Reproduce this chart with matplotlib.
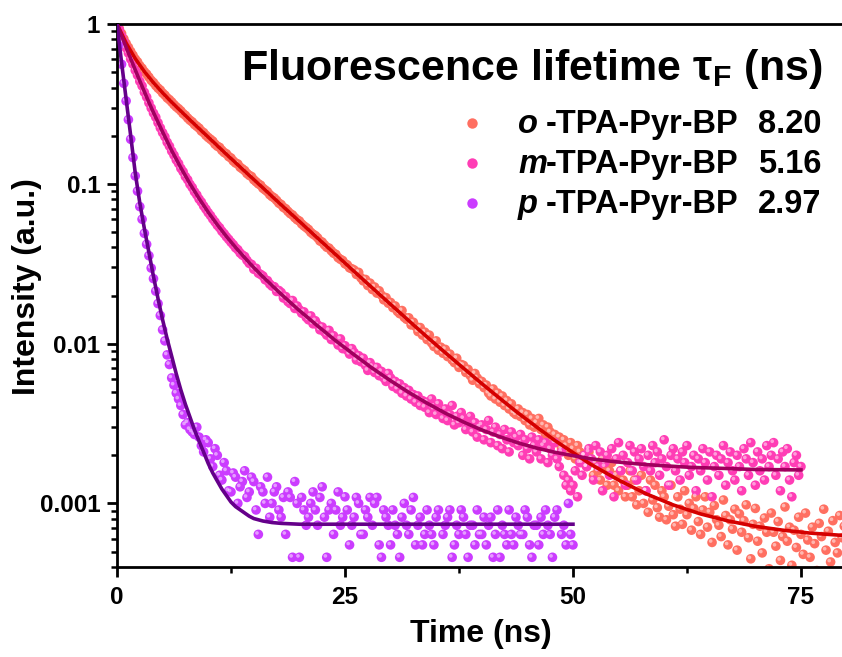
import numpy as np
import matplotlib
matplotlib.use("Agg")
import matplotlib.pyplot as plt
from matplotlib import transforms
from matplotlib.ticker import LogLocator, NullFormatter, FixedLocator

plt.rcParams["font.family"] = ["Liberation Sans", "DejaVu Sans"]
plt.rcParams["font.weight"] = "bold"
plt.rcParams["mathtext.default"] = "regular"

# channel width of the decay data (ns)
T_STEP = 0.25

# measured decays, one value per channel starting at t = 0 (8 channels = 2 ns per row)
o_int = [
    1.0, 0.935, 0.872, 0.808, 0.757, 0.715, 0.674, 0.638,
    0.604, 0.58, 0.549, 0.528, 0.503, 0.486, 0.465, 0.444,
    0.43, 0.412, 0.397, 0.386, 0.37, 0.359, 0.345, 0.336,
    0.325, 0.313, 0.303, 0.295, 0.286, 0.275, 0.268, 0.258,
    0.25, 0.244, 0.235, 0.229, 0.223, 0.214, 0.209, 0.201,
    0.195, 0.19, 0.185, 0.177, 0.172, 0.169, 0.162, 0.157,
    0.154, 0.148, 0.145, 0.139, 0.135, 0.133, 0.127, 0.124,
    0.121, 0.116, 0.113, 0.111, 0.106, 0.103, 0.1, 0.098,
    0.0938, 0.0915, 0.0892, 0.0855, 0.0832, 0.0815, 0.0788, 0.0757,
    0.0742, 0.0712, 0.0698, 0.0672, 0.0651, 0.0638, 0.0614, 0.0596,
    0.0585, 0.0561, 0.0545, 0.0532, 0.0518, 0.0497, 0.0484, 0.0474,
    0.0459, 0.0439, 0.0432, 0.0415, 0.0401, 0.0396, 0.0381, 0.0368,
    0.0362, 0.0345, 0.0337, 0.0331, 0.0316, 0.0311, 0.0298, 0.0294,
    0.0289, 0.0271, 0.0279, 0.0258, 0.0247, 0.0252, 0.0231, 0.0239,
    0.0218, 0.0226, 0.0207, 0.0214, 0.0201, 0.0188, 0.0194, 0.0179,
    0.0181, 0.0168, 0.0172, 0.0159, 0.0154, 0.0161, 0.0146, 0.0142,
    0.0145, 0.0131, 0.0136, 0.0128, 0.0119, 0.0126, 0.0113, 0.0118,
    0.0106, 0.0113, 0.0101, 0.0096, 0.0104, 0.0091, 0.0095, 0.0087,
    0.0092, 0.0083, 0.0086, 0.0079, 0.0076, 0.0081, 0.0071, 0.0074,
    0.0073, 0.0066, 0.0069, 0.0063, 0.0059, 0.0065, 0.0061, 0.0056,
    0.0058, 0.0053, 0.0055, 0.0049, 0.0047, 0.0052, 0.0045, 0.0049,
    0.0043, 0.0047, 0.0041, 0.0044, 0.0039, 0.0042, 0.0037, 0.0036,
    0.0039, 0.0035, 0.0037, 0.0033, 0.0036, 0.0031, 0.0034, 0.0030,
    0.0032, 0.0034, 0.0029, 0.0031, 0.0027, 0.0030, 0.0028, 0.0025,
    0.0027, 0.0024, 0.0026, 0.0022, 0.0025, 0.0023, 0.0020, 0.0024,
    0.0022, 0.0019, 0.0023, 0.0021, 0.0018, 0.0020, 0.0017, 0.0021,
    0.0019, 0.0015, 0.0018, 0.0016, 0.0014, 0.0019, 0.0017, 0.0013,
    0.0016, 0.0018, 0.0013, 0.0015, 0.0012, 0.0016, 0.0014, 0.0011,
    0.0013, 0.0016, 0.0011, 0.0014, 0.00098, 0.0012, 0.0015, 0.0010,
    0.0012, 0.00088, 0.0014, 0.00105, 0.0013, 0.00094, 0.00082, 0.0012,
    0.0011, 0.00079, 0.00096, 0.0013, 0.00085, 0.00072, 0.0011, 0.00092,
    0.00074, 0.0012, 0.00085, 0.001, 0.00068, 0.00093, 0.0011, 0.00077,
    0.00064, 0.00091, 0.0011, 0.00071, 0.00088, 0.00057, 0.00097, 0.00079,
    0.00073, 0.00062, 0.00105, 0.00084, 0.00055, 0.00079, 0.00069, 0.00092,
    0.00051, 0.00086, 0.00066, 0.00078, 0.00098, 0.00061, 0.00045, 0.00074,
    0.00093, 0.00058, 0.00072, 0.00049, 0.00081, 0.00066, 0.00039, 0.00087,
    0.00066, 0.00054, 0.00077, 0.00044, 0.00062, 0.00095, 0.00058, 0.00071,
    0.00041, 0.00068, 0.00053, 0.00082, 0.00064, 0.00048, 0.00087, 0.00059,
    0.00046, 0.00071, 0.00056, 0.00038, 0.00075, 0.00062, 0.00092, 0.00051,
    0.00067, 0.00043, 0.00078, 0.00057, 0.00049, 0.00084, 0.00061, 0.00072,
]
m_int = [
    1.0, 0.92, 0.838, 0.772, 0.709, 0.657, 0.603, 0.561,
    0.513, 0.478, 0.438, 0.41, 0.374, 0.349, 0.321, 0.298,
    0.277, 0.261, 0.241, 0.224, 0.209, 0.197, 0.182, 0.172,
    0.16, 0.151, 0.141, 0.134, 0.125, 0.119, 0.111, 0.106,
    0.0993, 0.0948, 0.0891, 0.0852, 0.0803, 0.0769, 0.0727, 0.0694,
    0.066, 0.0633, 0.0602, 0.0577, 0.055, 0.0531, 0.0505, 0.0487,
    0.0466, 0.0449, 0.0431, 0.0416, 0.0398, 0.0387, 0.0369, 0.0358,
    0.0351, 0.0332, 0.0318, 0.0313, 0.0292, 0.0296, 0.0276, 0.0271,
    0.0265, 0.0251, 0.0248, 0.0236, 0.0229, 0.0227, 0.0212, 0.0215,
    0.0209, 0.0193, 0.0197, 0.0183, 0.0178, 0.0186, 0.0166, 0.0172,
    0.0163, 0.0155, 0.0158, 0.0146, 0.0141, 0.0149, 0.0133, 0.0139,
    0.0131, 0.0122, 0.0127, 0.0118, 0.0113, 0.0121, 0.0106, 0.0112,
    0.0104, 0.0098, 0.0107, 0.0093, 0.0097, 0.0091, 0.0086, 0.0093,
    0.0088, 0.0079, 0.0084, 0.0077, 0.0081, 0.0073, 0.0068, 0.0076,
    0.0072, 0.0066, 0.0071, 0.0063, 0.0067, 0.0061, 0.0058, 0.0065,
    0.0061, 0.0054, 0.0058, 0.0052, 0.0056, 0.0049, 0.0053, 0.0047,
    0.0051, 0.0045, 0.0048, 0.0043, 0.0047, 0.0041, 0.0044, 0.0040,
    0.0043, 0.0037, 0.0045, 0.0039, 0.0036, 0.0042, 0.0038, 0.0034,
    0.0039, 0.0033, 0.0036, 0.0041, 0.0031, 0.0035, 0.0032, 0.0037,
    0.0034, 0.0029, 0.0031, 0.0035, 0.0028, 0.0032, 0.0026, 0.0030,
    0.0031, 0.0025, 0.0029, 0.0033, 0.0024, 0.0028, 0.0030, 0.0023,
    0.0027, 0.0022, 0.0029, 0.0025, 0.0021, 0.0028, 0.0024, 0.0026,
    0.0023, 0.0027, 0.0020, 0.0025, 0.0022, 0.0019, 0.0026, 0.0023,
    0.0021, 0.0025, 0.0019, 0.0023, 0.0024, 0.0018, 0.0022, 0.0020,
    0.0024, 0.0019, 0.0017, 0.0021, 0.0015, 0.0013, 0.0014, 0.0012,
    0.0013, 0.0016, 0.0011, 0.0018, 0.0015, 0.0020, 0.0017, 0.0022,
    0.0019, 0.0014, 0.0023, 0.0017, 0.0021, 0.0012, 0.0018, 0.0020,
    0.0015, 0.0022, 0.0011, 0.0019, 0.0024, 0.0016, 0.0020, 0.0013,
    0.0018, 0.0023, 0.0016, 0.0021, 0.0014, 0.0019, 0.0022, 0.0017,
    0.0012, 0.0020, 0.0016, 0.0023, 0.0018, 0.0021, 0.0015, 0.0019,
    0.0025, 0.0017, 0.0013, 0.0020, 0.0022, 0.0016, 0.0019, 0.0014,
    0.0021, 0.0018, 0.0023, 0.0015, 0.0017, 0.0020, 0.0012, 0.0019,
    0.0016, 0.0022, 0.0018, 0.0014, 0.0021, 0.0011, 0.0017, 0.0020,
    0.0015, 0.0019, 0.0023, 0.0013, 0.0018, 0.0021, 0.0016, 0.0014,
    0.0020, 0.0017, 0.0012, 0.0022, 0.0019, 0.0015, 0.0024, 0.0018,
    0.0013, 0.0021, 0.0016, 0.0019, 0.0014, 0.0023, 0.0017, 0.0020,
    0.0024, 0.0015, 0.0019, 0.0012, 0.0021, 0.0017, 0.0022, 0.0014,
    0.0011, 0.0018, 0.0020, 0.0015, 0.0017,
]
p_int = [
    1.0, 0.74, 0.56, 0.425, 0.33, 0.252, 0.19, 0.146,
    0.112, 0.09, 0.072, 0.06, 0.049, 0.0418, 0.0355, 0.0297,
    0.0255, 0.0213, 0.0178, 0.015, 0.0122, 0.0104, 0.0085, 0.0074,
    0.0061, 0.0055, 0.0049, 0.0045, 0.0041, 0.0036, 0.0031, 0.0032,
    0.0029, 0.0028, 0.0027, 0.0030, 0.0026, 0.0023, 0.0021, 0.0025,
    0.0024, 0.0019, 0.0017, 0.0022, 0.0020, 0.0015, 0.0014, 0.0018,
    0.0016, 0.0012, 0.00118, 0.00155, 0.00146, 0.001, 0.00127, 0.00137,
    0.0016, 0.00109, 0.00118, 0.00146, 0.00137, 0.00091, 0.00064, 0.00127,
    0.00118, 0.001, 0.00146, 0.00082, 0.001, 0.00118, 0.00127, 0.00091,
    0.00082, 0.00109, 0.00064, 0.00118, 0.00109, 0.00046, 0.00137, 0.001,
    0.00046, 0.00109, 0.00091, 0.00073, 0.00082, 0.001, 0.00118, 0.00091,
    0.00073, 0.00109, 0.00127, 0.00082, 0.00046, 0.00091, 0.001, 0.00064,
    0.00091, 0.00118, 0.00073, 0.00082, 0.0011, 0.00091, 0.00055, 0.00073,
    0.00082, 0.00109, 0.001, 0.00064, 0.00064, 0.00091, 0.00082, 0.00109,
    0.00073, 0.001, 0.00109, 0.00055, 0.00046, 0.00091, 0.00082, 0.00073,
    0.00055, 0.00091, 0.00073, 0.00064, 0.00046, 0.00082, 0.001, 0.00073,
    0.00064, 0.00091, 0.00109, 0.00055, 0.00073, 0.00082, 0.00055, 0.00064,
    0.00091, 0.00073, 0.00064, 0.00055, 0.00082, 0.00091, 0.00037, 0.00064,
    0.00073, 0.00082, 0.00091, 0.00046, 0.00055, 0.00073, 0.00064, 0.00091,
    0.00082, 0.00064, 0.00046, 0.00073, 0.00073, 0.00055, 0.00091, 0.00064,
    0.00064, 0.00082, 0.00055, 0.00073, 0.00082, 0.00046, 0.00064, 0.00091,
    0.00046, 0.00073, 0.00064, 0.00055, 0.00091, 0.00064, 0.00055, 0.00082,
    0.00073, 0.00064, 0.00064, 0.00091, 0.00082, 0.00055, 0.00046, 0.00073,
    0.00073, 0.00055, 0.00082, 0.00064, 0.00091, 0.00073, 0.00064, 0.00046,
    0.00082, 0.00091, 0.00037, 0.00064, 0.00073, 0.00055, 0.001, 0.00064,
    0.00055,
]

# fitted decay curves (time in ns, intensity)
o_fit_t = [0, 1, 2, 3, 4, 5, 6, 8, 10, 12, 14, 16, 18, 20, 22, 24, 26, 28, 30, 32,
           34, 36, 38, 40, 42, 44, 46, 48, 50, 52, 55, 58, 61, 64, 67, 70, 73, 76, 80]
o_fit = [1.0, 0.759, 0.607, 0.504, 0.429, 0.371, 0.324, 0.251, 0.196, 0.153, 0.120,
         0.0943, 0.0739, 0.0582, 0.0457, 0.0360, 0.0283, 0.0223, 0.0176, 0.0139,
         0.0110, 0.00877, 0.00701, 0.00562, 0.00453, 0.00367, 0.00301, 0.00248,
         0.00208, 0.00175, 0.00140, 0.00115, 0.000978, 0.000859, 0.000777, 0.000719,
         0.00068, 0.000652, 0.000628]
m_fit_t = [0, 0.5, 1, 1.5, 2, 2.5, 3, 3.5, 4, 5, 6, 7, 8, 9, 10, 11, 12, 13, 14, 15,
           16, 17, 18, 19, 20, 22, 24, 26, 28, 30, 32, 34, 36, 38, 40, 42, 44, 46, 48,
           50, 52, 54, 56, 58, 60, 63, 66, 70, 75]
m_fit = [1.0, 0.845, 0.714, 0.606, 0.516, 0.440, 0.377, 0.323, 0.279, 0.211, 0.161,
         0.126, 0.100, 0.0809, 0.0664, 0.0554, 0.0468, 0.0400, 0.0345, 0.0299, 0.0262,
         0.0231, 0.0204, 0.0181, 0.0161, 0.0129, 0.0104, 0.00852, 0.00701, 0.00586,
         0.00495, 0.00424, 0.00367, 0.00323, 0.00288, 0.00261, 0.00239, 0.00222,
         0.00209, 0.00199, 0.0019, 0.00184, 0.00179, 0.00175, 0.00172, 0.00168,
         0.00166, 0.00163, 0.00162]
p_fit_t = [0, 0.5, 1, 1.5, 2, 2.5, 3, 3.5, 4, 4.5, 5, 5.5, 6, 6.5, 7, 7.5, 8, 8.5, 9,
           9.5, 10, 10.5, 11, 11.5, 12, 12.5, 13, 13.5, 14, 14.5, 15, 16, 17, 18, 20, 50]
p_fit = [1.0, 0.575, 0.339, 0.200, 0.117, 0.0759, 0.0525, 0.0372, 0.0263, 0.0191,
         0.0141, 0.0107, 0.00832, 0.00646, 0.00513, 0.00417, 0.00347, 0.00288,
         0.00245, 0.00209, 0.00178, 0.00155, 0.00138, 0.00123, 0.00112, 0.00102,
         0.000955, 0.000912, 0.000871, 0.000832, 0.000804, 0.000776, 0.000759,
         0.00075, 0.000741, 0.000741]

names = ["o", "m", "p"]
lifetimes = ["8.20", "5.16", "2.97"]
dot_colors = ["#FF6F61", "#FF3DB5", "#CB3CFF"]
line_colors = ["#D40000", "#A0005E", "#65008A"]

W, H = 842, 657
fig = plt.figure(figsize=(W / 100, H / 100), dpi=100)
ax = fig.add_axes([117 / W, 1 - 567 / H, (W - 117) / W, (567 - 24) / H])

# small light spot up-left of each dot gives the "bead" look
hl = transforms.offset_copy(ax.transData, fig=fig, x=-1.4, y=1.4, units="dots")
series = [o_int, m_int, p_int]
for vals, col in zip(series, dot_colors):
    t = T_STEP * np.arange(len(vals))
    ax.scatter(t, vals, s=48, color=col, edgecolors="none", zorder=2)
    ax.scatter(t, vals, s=7, color="white", alpha=0.5, edgecolors="none",
               transform=hl, zorder=2.5)

fits = [(o_fit_t, o_fit), (m_fit_t, m_fit), (p_fit_t, p_fit)]
for (ft, fv), col in zip(fits, line_colors):
    ax.plot(ft, fv, color=col, lw=2.6, zorder=3)

ax.set_yscale("log")
ax.set_xlim(0, 79.5)
ax.set_ylim(4e-4, 1)
ax.yaxis.set_major_locator(FixedLocator([1e-3, 1e-2, 1e-1, 1]))
ax.set_yticklabels(["0.001", "0.01", "0.1", "1"])
ax.yaxis.set_minor_locator(LogLocator(base=10, subs=np.arange(2, 10)))
ax.yaxis.set_minor_formatter(NullFormatter())
ax.set_xticks([0, 25, 50, 75])
ax.set_xticks([12.5, 37.5, 62.5], minor=True)

for side in ["left", "bottom", "top"]:
    ax.spines[side].set_linewidth(2)
ax.spines["right"].set_visible(False)
ax.tick_params(which="major", direction="out", length=7, width=2,
               labelsize=17.5, pad=5)
ax.tick_params(which="minor", direction="out", length=4, width=1.8)
ax.tick_params(axis="x", which="major", pad=7)

ax.set_xlabel("Time (ns)", fontsize=23, fontweight="bold")
ax.set_ylabel("Intensity (a.u.)", fontsize=23, fontweight="bold")
ax.xaxis.set_label_coords((481 - 117) / (W - 117), (567 - 619) / (567 - 24))
ax.yaxis.set_label_coords((42 - 117) / (W - 117), (567 - 287) / (567 - 24))

def fx(x):
    return x / W

def fy(y):
    return 1 - y / H

fig.text(fx(822), fy(80), r"Fluorescence lifetime τ$_{F}$ (ns)",
         ha="right", va="baseline", fontsize=31, fontweight="bold")

for i, (nm, tau, dc) in enumerate(zip(names, lifetimes, dot_colors)):
    ym = 123 + 40 * i
    yb = 133 + 40 * i
    ax.plot([fx(472)], [fy(ym)], "o", ms=7.5, color=dc, mec="none",
            transform=fig.transFigure, clip_on=False)
    fig.text(fx(518), fy(yb), nm, style="italic", fontsize=23.5,
             fontweight="bold", va="baseline")
    fig.text(fx(546), fy(yb), "-TPA-Pyr-BP", fontsize=23.5,
             fontweight="bold", va="baseline")
    fig.text(fx(758), fy(yb), tau, fontsize=23.5, fontweight="bold",
             va="baseline")

fig.savefig("out.png", dpi=100)
